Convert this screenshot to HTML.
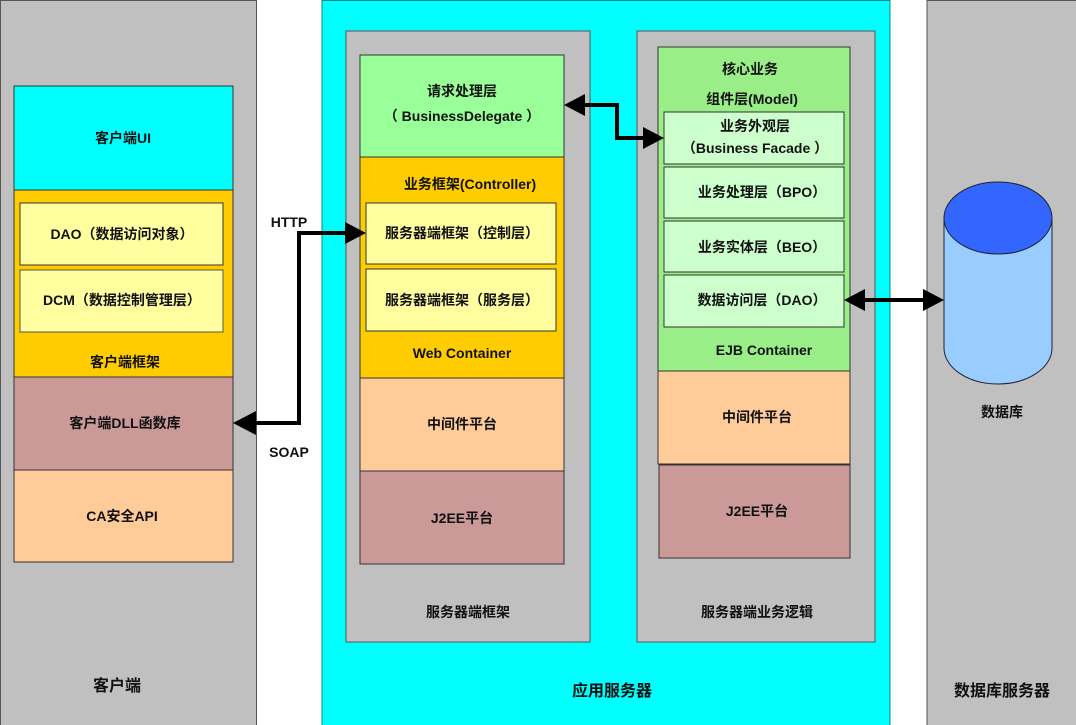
<!DOCTYPE html>
<html><head><meta charset="utf-8"><style>
html,body{margin:0;padding:0;background:#fff;}
svg{display:block;}
text{font-family:"Liberation Sans","Noto Sans CJK SC","WenQuanYi Zen Hei",sans-serif;font-weight:bold;font-size:14px;fill:#111;text-anchor:middle;}
</style></head><body>
<svg width="1076" height="725" viewBox="0 0 1076 725" xmlns="http://www.w3.org/2000/svg">
<defs>
<marker id="ah" markerWidth="8" markerHeight="8" refX="7" refY="4" orient="auto" markerUnits="userSpaceOnUse" viewBox="0 0 8 8">
</marker>
</defs>
<!-- client -->
<rect x="0.5" y="0.5" width="256" height="726" fill="#c0c0c0" stroke="#555"/>
<rect x="14" y="86" width="219" height="104" fill="#00ffff" stroke="#333"/>
<text x="123" y="143">客户端UI</text>
<rect x="14" y="190" width="219" height="187" fill="#ffcc00" stroke="#333"/>
<rect x="20" y="203" width="203" height="62" fill="#ffffa0" stroke="#333"/>
<text x="122" y="239">DAO（数据访问对象）</text>
<rect x="20" y="270" width="203" height="62" fill="#ffffa0" stroke="#555"/>
<text x="122" y="305">DCM（数据控制管理层）</text>
<text x="125" y="367">客户端框架</text>
<rect x="14" y="377" width="219" height="93" fill="#cc9999" stroke="#333"/>
<text x="125" y="428">客户端DLL函数库</text>
<rect x="14" y="470" width="219" height="92" fill="#ffcc99" stroke="#333"/>
<text x="122" y="521">CA安全API</text>
<text x="117" y="691" style="font-size:16px">客户端</text>

<!-- app server -->
<rect x="322" y="0.5" width="568" height="726" fill="#00ffff" stroke="#088"/>
<text x="612" y="696" style="font-size:16px">应用服务器</text>
<rect x="346" y="31" width="244" height="611" fill="#c0c0c0" stroke="#555"/>
<rect x="360" y="55" width="204" height="102" fill="#99ff99" stroke="#333"/>
<text x="462" y="96">请求处理层</text>
<text x="462" y="121">（ BusinessDelegate ）</text>
<rect x="360" y="157" width="204" height="221" fill="#ffcc00" stroke="#333"/>
<text x="470" y="189">业务框架(Controller)</text>
<rect x="366" y="203" width="190" height="61" fill="#ffffa0" stroke="#333"/>
<text x="462" y="238">服务器端框架（控制层）</text>
<rect x="366" y="269" width="190" height="62" fill="#ffffa0" stroke="#333"/>
<text x="462" y="305">服务器端框架（服务层）</text>
<text x="462" y="358">Web Container</text>
<rect x="360" y="378" width="204" height="93" fill="#ffcc99" stroke="#333"/>
<text x="462" y="429">中间件平台</text>
<rect x="360" y="471" width="204" height="93" fill="#cc9999" stroke="#333"/>
<text x="462" y="523">J2EE平台</text>
<text x="468" y="617">服务器端框架</text>

<rect x="637" y="31" width="238" height="611" fill="#c0c0c0" stroke="#555"/>
<rect x="658" y="47" width="192" height="324" fill="#99ee88" stroke="#333"/>
<text x="750" y="74">核心业务</text>
<text x="752" y="104">组件层(Model)</text>
<rect x="664" y="112" width="180" height="52" fill="#ccffcc" stroke="#333"/>
<text x="755" y="131">业务外观层</text>
<text x="755" y="153">（Business Facade ）</text>
<rect x="664" y="167" width="180" height="51" fill="#ccffcc" stroke="#333"/>
<text x="762" y="197">业务处理层（BPO）</text>
<rect x="664" y="221" width="180" height="51" fill="#ccffcc" stroke="#333"/>
<text x="762" y="252">业务实体层（BEO）</text>
<rect x="664" y="275" width="180" height="52" fill="#ccffcc" stroke="#333"/>
<text x="762" y="305">数据访问层（DAO）</text>
<text x="764" y="355">EJB Container</text>
<rect x="658" y="371" width="192" height="93" fill="#ffcc99" stroke="#333"/>
<text x="757" y="422">中间件平台</text>
<rect x="659" y="465" width="191" height="93" fill="#cc9999" stroke="#333"/>
<text x="757" y="516">J2EE平台</text>
<text x="757" y="617">服务器端业务逻辑</text>

<!-- db server -->
<rect x="927" y="0.5" width="150" height="726" fill="#c0c0c0" stroke="#555"/>
<path d="M944 218 L944 348 A54 36 0 0 0 1052 348 L1052 218" fill="#99ccff" stroke="#223"/>
<ellipse cx="998" cy="218" rx="54" ry="36" fill="#3366ff" stroke="#223"/>
<text x="1002" y="417">数据库</text>
<text x="1002" y="696" style="font-size:16px">数据库服务器</text>

<!-- connectors -->
<g fill="none" stroke="#000" stroke-width="4">
<polyline points="346,233 299,233 299,423 252,423"/>
<polyline points="582,105 617,105 617,138 646,138"/>
<line x1="862" y1="300" x2="926" y2="300"/>
</g>
<g fill="#000">
<polygon points="366,233 345,222 345,244"/>
<polygon points="233,423 256,411 256,435"/>
<polygon points="564,105 585,94 585,116"/>
<polygon points="664,138 643,127 643,149"/>
<polygon points="844,300 865,289 865,311"/>
<polygon points="944,300 923,289 923,311"/>
</g>
<text x="289" y="227">HTTP</text>
<text x="289" y="457">SOAP</text>
</svg>
</body></html>
